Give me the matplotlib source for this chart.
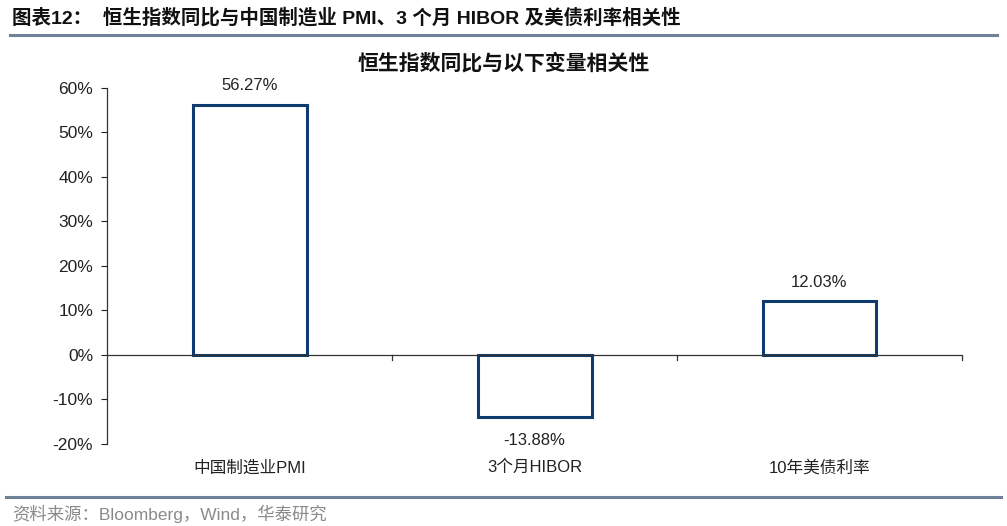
import matplotlib
matplotlib.use("Agg")
import matplotlib.pyplot as plt
from matplotlib.lines import Line2D
from matplotlib.ticker import FuncFormatter

plt.rcParams['font.family'] = ['Liberation Sans', 'Noto Sans CJK SC', 'DejaVu Sans']

# data
categories = ['中国制造业PMI', '3个月HIBOR', '10年美债利率']
corr = [56.27, -13.88, 12.03]

header = '图表12：  恒生指数同比与中国制造业 PMI、3 个月 HIBOR 及美债利率相关性'
chart_title = '恒生指数同比与以下变量相关性'
source = '资料来源：Bloomberg，Wind，华泰研究'

navy = '#0F3B6E'
rule = '#6E8196'

fig = plt.figure(figsize=(10.07, 5.26), dpi=100)
ax = fig.add_axes([0.1063, 0.1559, 0.849, 0.6768])

x = range(len(categories))
ax.bar(x, corr, width=0.4, facecolor='white', edgecolor=navy, linewidth=2.2)

for xi, v in zip(x, corr):
    if v >= 0:
        ax.annotate(f'{v:.2f}%', (xi, v), xytext=(0, 8), textcoords='offset points',
                    ha='center', va='bottom', fontsize=12, color='#222222')
    else:
        ax.annotate(f'{v:.2f}%', (xi, v), xytext=(0, -12), textcoords='offset points',
                    ha='center', va='top', fontsize=12, color='#222222')

ax.set_xlim(-0.5, len(categories) - 0.5)
ax.set_ylim(-20, 60)
ax.set_yticks(range(-20, 61, 10))
ax.yaxis.set_major_formatter(FuncFormatter(lambda v, p: f'{v:.0f}%'))
ax.tick_params(axis='y', labelsize=12.5, length=4, colors='#222222', direction='out', pad=6)

# x axis at zero with category-boundary ticks
for s in ['top', 'right', 'bottom']:
    ax.spines[s].set_visible(False)
ax.spines['left'].set_color('#333333')
ax.spines['left'].set_linewidth(0.9)
ax.set_xticks([])
ax.axhline(0, color='#333333', linewidth=0.9)
for b in [0.5, 1.5, 2.5]:
    ax.plot([b, b], [0, -1.2], color='#333333', linewidth=0.9, clip_on=False)

for xi, c in zip(x, categories):
    ax.text(xi, -25.3, c, ha='center', va='center', fontsize=12, color='#222222')

fig.text(0.50, 0.880, chart_title, ha='center', va='center', fontsize=15,
         fontweight='bold', color='#111111')

fig.text(0.012, 0.967, header, ha='left', va='center', fontsize=14,
         fontweight='bold', color='#111111')
fig.add_artist(Line2D([0.01, 0.99], [0.9335, 0.9335], color=rule, linewidth=2.2,
                      transform=fig.transFigure))
fig.add_artist(Line2D([0.006, 0.994], [0.0551, 0.0551], color=rule, linewidth=2.2,
                      transform=fig.transFigure))
fig.text(0.012, 0.024, source, ha='left', va='center', fontsize=12.5, color='#8A8A8A')

fig.savefig('out.png', dpi=100)
